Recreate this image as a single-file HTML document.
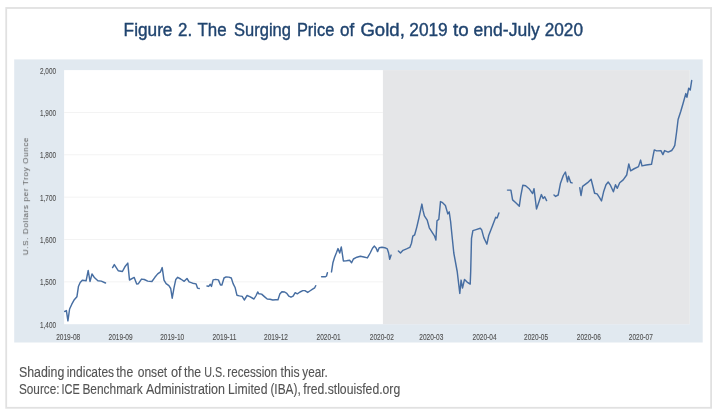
<!DOCTYPE html>
<html lang="en">
<head>
<meta charset="utf-8">
<title>Figure 2. The Surging Price of Gold, 2019 to end-July 2020</title>
<style>
html,body{margin:0;padding:0;background:#fff;}
body{width:718px;height:415px;overflow:hidden;position:relative;font-family:"Liberation Sans",sans-serif;}
svg{position:absolute;left:0;top:0;display:block;}
text{font-family:"Liberation Sans",sans-serif;}
.title{font-size:18.8px;fill:#20446f;stroke:#20446f;stroke-width:0.4px;}
.tick text{font-size:9.8px;fill:#505050;stroke:#505050;stroke-width:0.12px;}
.ylab{font-size:8.1px;fill:#5a5a5a;filter:blur(0.3px);}
.note{font-size:15.2px;fill:#535353;stroke:#535353;stroke-width:0.12px;}
.grid line{stroke:#f3f3f3;stroke-width:1;}
</style>
</head>
<body>
<svg width="718" height="415" viewBox="0 0 718 415">
<rect x="0" y="0" width="718" height="415" fill="#ffffff"/>
<rect x="6.2" y="8" width="704.9" height="399.8" fill="#ffffff" stroke="#e1e1e1" stroke-width="1.8"/>
<text class="title" y="35.8"><tspan x="123.62" textLength="48.86" lengthAdjust="spacingAndGlyphs">Figure</tspan> <tspan x="178.10" textLength="14.10" lengthAdjust="spacingAndGlyphs">2.</tspan> <tspan x="197.45" textLength="29.14" lengthAdjust="spacingAndGlyphs">The</tspan> <tspan x="234.12" textLength="56.77" lengthAdjust="spacingAndGlyphs">Surging</tspan> <tspan x="296.89" textLength="37.41" lengthAdjust="spacingAndGlyphs">Price</tspan> <tspan x="339.92" textLength="14.21" lengthAdjust="spacingAndGlyphs">of</tspan> <tspan x="360.41" textLength="44.41" lengthAdjust="spacingAndGlyphs">Gold,</tspan> <tspan x="409.28" textLength="38.44" lengthAdjust="spacingAndGlyphs">2019</tspan> <tspan x="452.95" textLength="15.67" lengthAdjust="spacingAndGlyphs">to</tspan> <tspan x="473.60" textLength="66.20" lengthAdjust="spacingAndGlyphs">end-July</tspan> <tspan x="544.68" textLength="38.33" lengthAdjust="spacingAndGlyphs">2020</tspan></text>
<rect x="14.2" y="59.4" width="688.5" height="283.1" fill="#e1e9f0"/>
<rect x="64.1" y="70.1" width="625.6999999999999" height="254.1" fill="#ffffff"/>
<g class="grid"><line x1="64.1" x2="382.9" y1="281.85" y2="281.85"/><line x1="64.1" x2="382.9" y1="239.50" y2="239.50"/><line x1="64.1" x2="382.9" y1="197.15" y2="197.15"/><line x1="64.1" x2="382.9" y1="154.80" y2="154.80"/><line x1="64.1" x2="382.9" y1="112.45" y2="112.45"/></g>
<rect x="382.9" y="70.1" width="306.9" height="254.1" fill="#e5e6e8"/>
<g class="tick" style="filter:blur(0.35px)"><text x="56" y="327.80" text-anchor="end" textLength="16" lengthAdjust="spacingAndGlyphs">1,400</text><text x="56" y="285.45" text-anchor="end" textLength="16" lengthAdjust="spacingAndGlyphs">1,500</text><text x="56" y="243.10" text-anchor="end" textLength="16" lengthAdjust="spacingAndGlyphs">1,600</text><text x="56" y="200.75" text-anchor="end" textLength="16" lengthAdjust="spacingAndGlyphs">1,700</text><text x="56" y="158.40" text-anchor="end" textLength="16" lengthAdjust="spacingAndGlyphs">1,800</text><text x="56" y="116.05" text-anchor="end" textLength="16" lengthAdjust="spacingAndGlyphs">1,900</text><text x="56" y="73.70" text-anchor="end" textLength="16" lengthAdjust="spacingAndGlyphs">2,000</text><text x="68.2" y="340.1" text-anchor="middle" textLength="24" lengthAdjust="spacingAndGlyphs">2019-08</text><text x="120.6" y="340.1" text-anchor="middle" textLength="24" lengthAdjust="spacingAndGlyphs">2019-09</text><text x="172.2" y="340.1" text-anchor="middle" textLength="24" lengthAdjust="spacingAndGlyphs">2019-10</text><text x="224.5" y="340.1" text-anchor="middle" textLength="24" lengthAdjust="spacingAndGlyphs">2019-11</text><text x="276.0" y="340.1" text-anchor="middle" textLength="24" lengthAdjust="spacingAndGlyphs">2019-12</text><text x="328.6" y="340.1" text-anchor="middle" textLength="24" lengthAdjust="spacingAndGlyphs">2020-01</text><text x="381.8" y="340.1" text-anchor="middle" textLength="24" lengthAdjust="spacingAndGlyphs">2020-02</text><text x="431.3" y="340.1" text-anchor="middle" textLength="24" lengthAdjust="spacingAndGlyphs">2020-03</text><text x="484.6" y="340.1" text-anchor="middle" textLength="24" lengthAdjust="spacingAndGlyphs">2020-04</text><text x="536.1" y="340.1" text-anchor="middle" textLength="24" lengthAdjust="spacingAndGlyphs">2020-05</text><text x="588.8" y="340.1" text-anchor="middle" textLength="24" lengthAdjust="spacingAndGlyphs">2020-06</text><text x="640.8" y="340.1" text-anchor="middle" textLength="24" lengthAdjust="spacingAndGlyphs">2020-07</text></g>
<text class="ylab" transform="translate(28.1 255.2) rotate(-90)" textLength="117.6" lengthAdjust="spacing">U.S. Dollars per Troy Ounce</text>
<path d="M64.7 311.5 L66.4 310.6 L67.9 320.8 L69.6 309.0 L71.8 304.2 L74.3 299.7 L76.9 296.8 L78.5 286.2 L80.2 282.5 L82.3 280.3 L86.1 280.8 L88.2 270.5 L90.0 281.5 L92.0 274.0 L94.6 277.8 L97.9 280.8 L101.3 281.1 L105.5 283.0 M112.6 267.6 L114.3 264.6 L118.2 270.7 L122.4 271.5 L124.9 266.8 L127.8 263.1 L129.5 280.0 L134.2 277.4 L136.7 284.0 L138.4 283.7 L141.5 279.1 L144.3 279.5 L147.7 281.1 L151.9 281.5 L154.9 277.3 L157.7 273.9 L160.5 271.8 L162.2 267.6 L164.0 280.1 L166.1 283.6 L168.9 285.7 L170.7 288.5 L172.2 298.2 L174.0 287.8 L175.8 279.4 L177.7 277.3 L180.7 279.0 L184.2 281.3 L187.0 278.5 L189.1 281.8 L192.6 283.2 L196.1 283.9 L197.5 288.1 L199.2 288.5 M207.0 286.0 L208.7 286.4 L210.3 284.3 L211.5 286.4 L213.1 279.9 L215.6 279.4 L218.4 279.9 L220.5 285.0 L221.9 285.0 L224.0 278.0 L226.1 276.9 L228.9 277.1 L231.3 278.0 L233.1 283.6 L235.2 287.8 L236.9 295.2 L239.4 295.9 L242.2 296.4 L244.3 300.0 L247.1 295.5 L249.8 296.6 L254.0 299.0 L256.1 295.5 L257.7 292.0 L258.9 293.8 L261.6 294.1 L264.4 296.6 L267.2 299.0 L270.0 299.3 L272.8 300.0 L275.6 299.7 L278.0 299.7 L279.8 294.1 L281.9 291.7 L284.7 292.0 L286.8 293.4 L288.9 296.2 L291.0 297.2 L293.1 296.2 L295.2 292.7 L297.3 293.8 L300.0 292.0 L302.8 290.6 L304.9 290.6 L307.7 292.4 L309.8 291.0 L312.6 289.2 L314.7 287.8 L315.7 285.7 M321.6 276.8 L325.5 276.8 L326.5 276.0 L327.4 272.7 M331.5 271.9 L332.9 262.8 L334.6 257.2 L336.6 252.3 L338.0 248.6 L339.7 253.0 L341.3 247.0 L343.4 261.0 L346.4 260.7 L349.6 260.3 L351.6 262.8 L353.4 259.0 L356.9 257.2 L360.4 256.3 L363.9 257.0 L367.4 257.9 L370.2 253.0 L372.5 248.2 L374.4 246.1 L376.2 248.2 L377.6 251.6 L379.2 247.7 L382.0 247.2 L384.8 247.7 L387.3 248.9 L388.6 253.0 L389.7 259.3 L391.1 255.1 M398.4 251.0 L400.5 253.0 L403.0 250.3 L406.5 248.9 L409.8 247.4 L411.5 243.2 L412.8 236.2 L414.7 234.8 L416.8 227.1 L418.9 218.0 L420.7 209.7 L421.9 204.1 L423.0 210.4 L424.4 215.9 L427.2 220.1 L429.3 227.8 L432.8 233.4 L434.6 236.2 L435.9 240.0 L437.0 220.8 L438.8 219.4 L440.5 201.6 L442.6 202.7 L445.4 205.5 L447.8 213.9 L449.2 211.8 L450.6 221.5 L452.0 235.5 L453.8 253.0 L457.2 271.5 L459.8 293.4 L461.1 280.1 L462.5 288.1 L464.5 279.5 L467.1 282.1 L470.2 284.1 L470.7 271.5 L471.5 238.3 L472.9 230.6 L476.1 229.6 L480.3 228.2 L481.7 229.9 L483.8 237.6 L486.9 244.2 L488.7 235.5 L492.2 226.4 L495.7 217.3 L497.1 218.0 L498.9 213.0 M507.5 190.1 L510.9 190.1 L512.6 199.9 L515.8 202.7 L519.3 206.2 L520.7 196.4 L522.8 185.3 L525.6 185.7 L529.1 188.7 L532.6 193.6 L534.0 188.7 L536.5 209.0 L538.9 202.0 L541.4 194.6 L543.1 198.5 L544.7 196.8 L546.6 200.6 M554.0 195.0 L555.6 196.4 L558.2 195.0 L560.5 183.2 L563.3 175.5 L565.4 172.0 L567.5 181.8 L568.5 176.2 L570.7 182.5 L572.1 182.9 M579.8 187.8 L581.0 195.5 L582.6 186.4 L587.6 182.7 L591.1 179.2 L592.5 184.8 L594.6 193.2 L597.1 193.9 L599.4 197.4 L601.5 200.9 L603.6 191.8 L606.0 184.8 L608.2 182.0 L610.2 184.8 L613.4 191.8 L615.5 184.8 L617.3 188.3 L619.7 182.7 L623.2 179.9 L626.7 175.0 L628.8 163.9 L630.6 170.8 L633.7 169.0 L638.5 166.6 L640.6 160.1 L642.0 165.9 L646.2 165.0 L651.5 164.3 L652.9 156.9 L654.3 149.9 L656.7 150.9 L660.9 150.6 L662.9 154.6 L664.6 150.6 L668.2 152.1 L671.7 150.5 L673.5 147.8 L674.8 145.3 L676.6 132.0 L678.1 119.5 L680.8 111.3 L683.2 103.0 L685.8 93.6 L687.0 97.2 L688.7 88.2 L690.2 90.1 L691.7 80.5" fill="none" stroke="#476ea2" stroke-width="1.45" style="filter:blur(0.3px)" stroke-linejoin="round" stroke-linecap="round"/>
<text class="note" y="377.2"><tspan x="18.89" textLength="45.43" lengthAdjust="spacingAndGlyphs">Shading</tspan> <tspan x="66.71" textLength="47.35" lengthAdjust="spacingAndGlyphs">indicates</tspan> <tspan x="116.20" textLength="17.00" lengthAdjust="spacingAndGlyphs">the</tspan> <tspan x="137.70" textLength="29.52" lengthAdjust="spacingAndGlyphs">onset</tspan> <tspan x="170.88" textLength="10.65" lengthAdjust="spacingAndGlyphs">of</tspan> <tspan x="184.10" textLength="17.00" lengthAdjust="spacingAndGlyphs">the</tspan> <tspan x="204.22" textLength="20.90" lengthAdjust="spacingAndGlyphs">U.S.</tspan> <tspan x="227.33" textLength="49.94" lengthAdjust="spacingAndGlyphs">recession</tspan> <tspan x="280.50" textLength="19.12" lengthAdjust="spacingAndGlyphs">this</tspan> <tspan x="302.30" textLength="25.51" lengthAdjust="spacingAndGlyphs">year.</tspan></text>
<text class="note" y="393.9"><tspan x="18.92" textLength="40.62" lengthAdjust="spacingAndGlyphs">Source:</tspan> <tspan x="61.50" textLength="18.21" lengthAdjust="spacingAndGlyphs">ICE</tspan> <tspan x="82.42" textLength="60.24" lengthAdjust="spacingAndGlyphs">Benchmark</tspan> <tspan x="145.90" textLength="79.11" lengthAdjust="spacingAndGlyphs">Administration</tspan> <tspan x="228.09" textLength="39.38" lengthAdjust="spacingAndGlyphs">Limited</tspan> <tspan x="270.42" textLength="30.32" lengthAdjust="spacingAndGlyphs">(IBA),</tspan> <tspan x="303.30" textLength="96.89" lengthAdjust="spacingAndGlyphs">fred.stlouisfed.org</tspan></text>
</svg>
</body>
</html>
